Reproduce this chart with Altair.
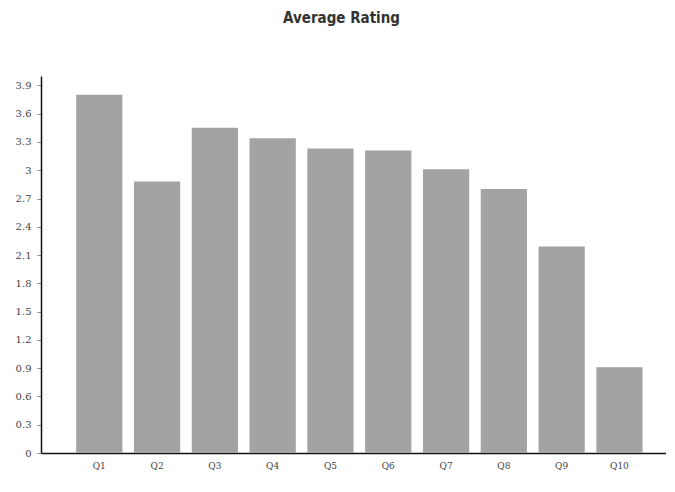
import altair as alt
import pandas as pd

questions = ["Q1", "Q2", "Q3", "Q4", "Q5", "Q6", "Q7", "Q8", "Q9", "Q10"]
ratings = [3.80, 2.88, 3.45, 3.34, 3.23, 3.21, 3.01, 2.80, 2.19, 0.91]
y_ticks = [0, 0.3, 0.6, 0.9, 1.2, 1.5, 1.8, 2.1, 2.4, 2.7, 3, 3.3, 3.6, 3.9]

df = pd.DataFrame({"question": questions, "rating": ratings})

chart = (
    alt.Chart(df)
    .mark_bar(color="#a3a3a3")
    .encode(
        x=alt.X(
            "question:N",
            sort=questions,
            title=None,
            scale=alt.Scale(paddingInner=0.2, paddingOuter=0.507, align=0.6),
            axis=alt.Axis(
                labelAngle=0,
                tickSize=0,
                labelPadding=8,
                labelFont="DejaVu Serif",
                labelFontSize=9,
                labelColor="#444444",
                domainColor="#111111",
                domainWidth=1.5,
            ),
        ),
        y=alt.Y(
            "rating:Q",
            title=None,
            scale=alt.Scale(domain=[0, 4.0], nice=False),
            axis=alt.Axis(
                values=y_ticks,
                grid=False,
                tickSize=4,
                tickColor="#888888",
                labelPadding=6,
                labelFont="DejaVu Serif",
                labelFontSize=10,
                labelColor="#444444",
                domainColor="#111111",
                domainWidth=1.5,
                labelExpr="format(datum.value, '~g')",
            ),
        ),
    )
    .properties(
        width=625,
        height=377,
        padding={"top": 3, "left": 7, "right": 0, "bottom": 5},
        title=alt.TitleParams(
            "Average Rating",
            font="DejaVu Sans Condensed",
            fontSize=15,
            fontWeight="bold",
            color="#333333",
            anchor="middle",
            dx=-12,
            offset=50,
        ),
    )
    .configure_view(stroke=None)
)

chart.save("out.html", embed_options={"renderer": "svg", "actions": False})
